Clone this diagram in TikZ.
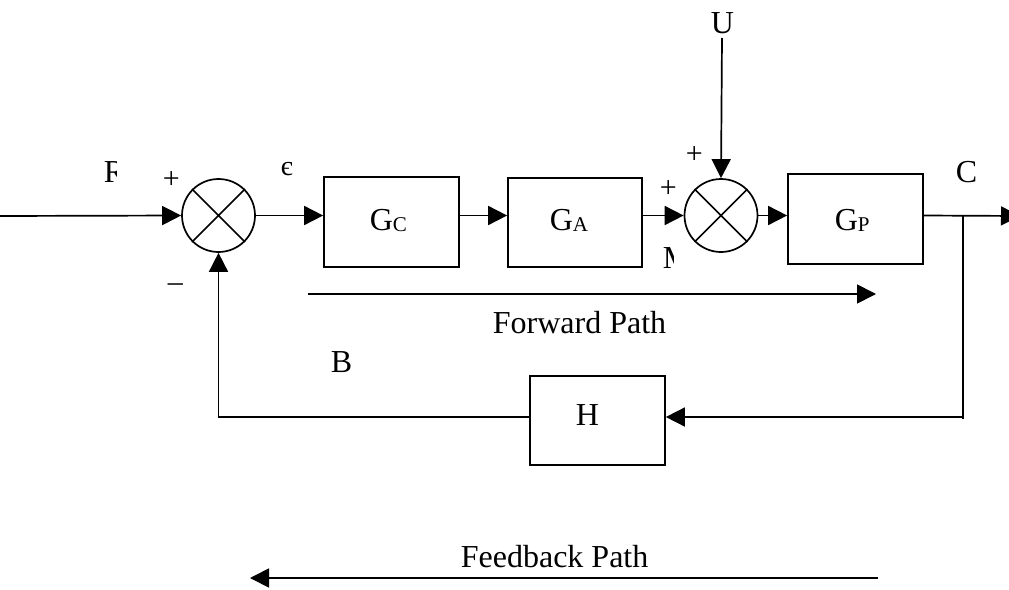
\documentclass[tikz,border=0pt]{standalone}
\usepackage{fontspec}
\setmainfont{Liberation Serif}
\usetikzlibrary{arrows.meta}
\begin{document}
\begin{tikzpicture}[x=1pt,y=-1pt,
  line width=1.7pt,
  tip/.style={-{Triangle[length=19pt,width=19pt]}},
  block/.style={draw,rectangle,inner sep=0pt},
  sumj/.style={draw,circle,minimum size=73pt,inner sep=0pt},
  lbl/.style={inner sep=0pt,anchor=base west,font=\fontsize{32}{38}\selectfont},
  sgn/.style={inner sep=0pt,anchor=base west,font=\fontsize{30}{36}\selectfont}]
\useasboundingbox (0,0) rectangle (1009,589);
% summing junctions
\node[sumj] (s1) at (218.5,215.5) {};
\draw (s1.north west) -- (s1.south east) (s1.north east) -- (s1.south west);
\node[sumj] (s2) at (721,215.5) {};
\draw (s2.north west) -- (s2.south east) (s2.north east) -- (s2.south west);
% blocks
\node[block,minimum width=135pt,minimum height=90pt] (gc) at (391.5,222) {};
\node[inner sep=0pt,anchor=base west] (gct) at (369,230) {\fontsize{32}{38}\selectfont G\raisebox{-1.5pt}{\fontsize{21}{24}\selectfont C}};
\node[block,minimum width=134pt,minimum height=89pt] (ga) at (575,222.5) {};
\node[inner sep=0pt,anchor=base west] (gat) at (549,230) {\fontsize{32}{38}\selectfont G\raisebox{-1.5pt}{\fontsize{21}{24}\selectfont A}};
\node[block,minimum width=135pt,minimum height=90pt] (gp) at (855.5,219) {};
\node[inner sep=0pt,anchor=base west] (gpt) at (834,230) {\fontsize{32}{38}\selectfont G\raisebox{-1.5pt}{\fontsize{21}{24}\selectfont P}};
\node[block,minimum width=135pt,minimum height=89pt] (h) at (597.5,420.5) {};
\node[inner sep=0pt,anchor=base west] (ht) at (575,425) {\fontsize{32}{38}\selectfont H};
% coordinates
\coordinate (in) at (0,216);
\coordinate (out) at (1020,216);
\coordinate (br) at (963,216);
\coordinate (brb) at (963,419);
\coordinate (fb) at (963,417);
\coordinate (u) at (722,38);
\coordinate (fl) at (218.5,417);
\coordinate (fs) at (308,294);
\coordinate (fe) at (876,294);
\coordinate (bs) at (878,578);
\coordinate (be) at (250,578);
% connectors
\draw[tip] (in) -- (s1.west);
\draw[tip] (s1.east) -- (s1.east -| gc.west);
\draw[tip] (s1.east -| gc.east) -- (s1.east -| ga.west);
\draw[tip] (s1.east -| ga.east) -- (s2.west);
\draw[tip] (s2.east) -- (s2.east -| gp.west);
\draw[tip] (s2.east -| gp.east) -- (out);
\draw (br) -- (brb);
\draw[tip] (fb) -- (h.east |- fb);
\draw[tip] (h.west |- fl) -- (fl) -- (s1.south);
\draw[tip] (u) -- (s2.north);
\draw[tip] (fs) -- (fe);
\draw[tip] (bs) -- (be);
% labels
\begin{scope}
\clip (95,150) rectangle (116.5,195);
\node[lbl] (r) at (103,182) {R};
\end{scope}
\begin{scope}
\clip (275,150) rectangle (293,190);
\node[lbl,font=\fontsize{28}{32}\selectfont] (eps) at (280,175) {є};
\end{scope}
\begin{scope}
\clip (655,240) rectangle (673.5,280);
\node[lbl] (m) at (662,268) {M};
\end{scope}
\node[sgn] (p1) at (162,188) {+};
\node[sgn] (m1) at (167,291) {–};
\node[sgn] (p2) at (685,163) {+};
\node[sgn] (p3) at (659,197) {+};
\node[lbl] (c) at (955,182) {C};
\node[lbl] (uu) at (710,33) {U};
\node[lbl] (b) at (330,372) {B};
\node[lbl,anchor=base east] (fp) at (667,333) {Forward Path};
\node[lbl,anchor=base west] (fbp) at (460,567) {Feedback Path};
\end{tikzpicture}
\end{document}
